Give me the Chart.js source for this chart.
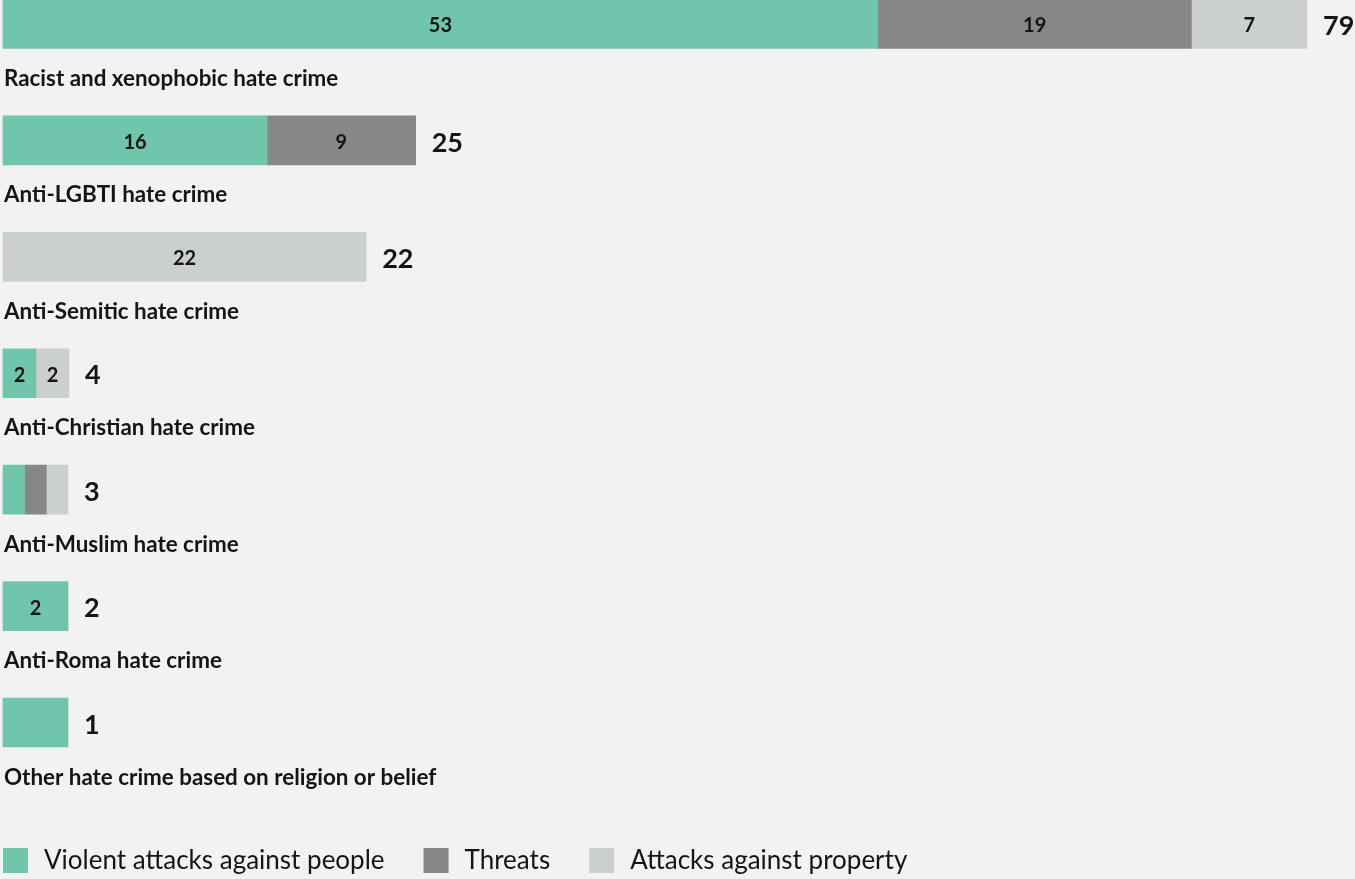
<!DOCTYPE html>
<html>
<head>
<meta charset="utf-8">
<title>Hate crime by bias motivation</title>
<script src="https://cdn.jsdelivr.net/npm/chart.js"></script>
<style>
  html, body { margin: 0; padding: 0; background: #f2f2f2; }
  #wrap { width: 1355px; height: 879px; }
</style>
</head>
<body>
<div id="wrap"><canvas id="hateChart" width="1355" height="879"></canvas></div>
<script>
const categories = [
    "Racist and xenophobic hate crime",
    "Anti-LGBTI hate crime",
    "Anti-Semitic hate crime",
    "Anti-Christian hate crime",
    "Anti-Muslim hate crime",
    "Anti-Roma hate crime",
    "Other hate crime based on religion or belief"
];
const violent = [53, 16, 0, 2, 1, 2, 1];
const threats = [19, 9, 0, 0, 1, 0, 0];
const property = [7, 0, 22, 2, 1, 0, 0];
const seriesNames = ["Violent attacks against people", "Threats", "Attacks against property"];

const seriesColors = ["#70c6ad", "#878787", "#cbd0ce"];
const FONT = "Lato, 'Open Sans', sans-serif";

const series = [violent, threats, property];
const totals = categories.map((c, i) => violent[i] + threats[i] + property[i]);

// very short bars are stretched to a minimum length (as in the original),
// segments keep their proportions; labels still show the real numbers
const MIN_TOTAL = 3.94;
function shown(values) {
    return values.map((v, i) => {
        if (!v) return null;
        return totals[i] < MIN_TOTAL ? v * MIN_TOTAL / totals[i] : v;
    });
}

const labelsPlugin = {
    id: "labels",
    afterDatasetsDraw(chart) {
        const ctx = chart.ctx;
        ctx.save();
        ctx.fillStyle = "#151515";

        // values inside segments
        ctx.font = "bold 20px " + FONT;
        ctx.textAlign = "center";
        ctx.textBaseline = "middle";
        chart.data.datasets.forEach((ds, d) => {
            const meta = chart.getDatasetMeta(d);
            meta.data.forEach((bar, i) => {
                const v = series[d][i];
                if (v < 2) return;
                ctx.fillText(v, (bar.x + bar.base) / 2, bar.y + 2);
            });
        });

        // totals + category names
        const yScale = chart.scales.y;
        const xScale = chart.scales.x;
        categories.forEach((cat, i) => {
            const y = yScale.getPixelForValue(i);
            const end = xScale.getPixelForValue(totals[i] < MIN_TOTAL ? MIN_TOTAL : totals[i]);
            ctx.font = "bold 27px " + FONT;
            ctx.textAlign = "left";
            ctx.textBaseline = "middle";
            ctx.fillText(totals[i], end + 16, y + 2.5);

            ctx.font = "bold 22.4px " + FONT;
            ctx.textBaseline = "alphabetic";
            ctx.fillText(cat, 4, y + 62);
        });

        // legend
        let x = 3;
        ctx.font = "26px " + FONT;
        ctx.textBaseline = "middle";
        seriesNames.forEach((name, d) => {
            ctx.fillStyle = seriesColors[d];
            ctx.fillRect(x, 848, 25, 25);
            ctx.fillStyle = "#151515";
            ctx.fillText(name, x + 41, 861);
            x += 41 + ctx.measureText(name).width + 39;
        });
        ctx.restore();
    }
};

new Chart(document.getElementById("hateChart"), {
    type: "bar",
    data: {
        labels: categories,
        datasets: series.map((values, d) => ({
            label: seriesNames[d],
            data: shown(values),
            backgroundColor: seriesColors[d],
            borderWidth: 0,
            barThickness: 49,
            clip: false
        }))
    },
    options: {
        indexAxis: "y",
        responsive: false,
        animation: false,
        devicePixelRatio: 1,
        layout: { padding: { left: 3, right: 31.5, top: 24, bottom: 156.5 } },
        scales: {
            x: { stacked: true, min: 0, max: 80, display: false },
            y: { stacked: true, offset: false, display: false }
        },
        plugins: {
            legend: { display: false },
            tooltip: { enabled: false }
        }
    },
    plugins: [labelsPlugin]
});
</script>
</body>
</html>
